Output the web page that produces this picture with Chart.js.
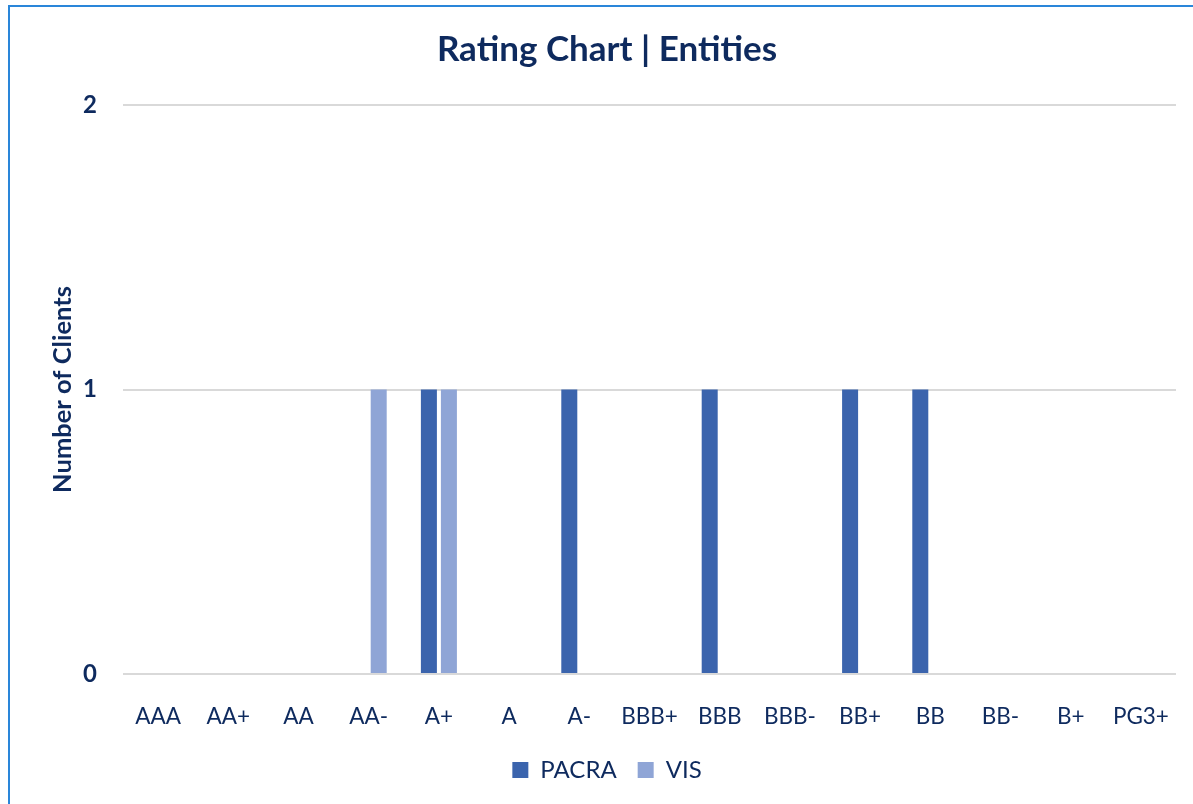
<!DOCTYPE html>
<html>
<head>
<meta charset="utf-8">
<script src="https://cdn.jsdelivr.net/npm/chart.js@4"></script>
<style>
  body { margin: 0; background: #fff; }
  #frame { position: absolute; left: 8px; top: 5px; width: 1300px; height: 900px;
           border-left: 2px solid #2A86D9; border-top: 2px solid #2A86D9; }
  #wrap { position: absolute; left: 0; top: 0; width: 1193px; height: 804px; }
</style>
</head>
<body>
<div id="frame"></div>
<div id="wrap"><canvas id="ratingChart"></canvas></div>
<script>
const ratings = ['AAA', 'AA+', 'AA', 'AA-', 'A+', 'A', 'A-', 'BBB+', 'BBB', 'BBB-', 'BB+', 'BB', 'BB-', 'B+', 'PG3+'];
const pacra = [0, 0, 0, 0, 1, 0, 1, 0, 1, 0, 1, 1, 0, 0, 0];
const vis = [0, 0, 0, 1, 1, 0, 0, 0, 0, 0, 0, 0, 0, 0, 0];
const yTicks = [0, 1, 2];

const navy = '#0E2A5E';
const fontFamily = 'Lato, "Open Sans", sans-serif';

const ctx = document.getElementById('ratingChart');
new Chart(ctx, {
  type: 'bar',
  data: {
    labels: ratings,
    datasets: [
      { label: 'PACRA', data: pacra, backgroundColor: '#3B64AD' },
      { label: 'VIS', data: vis, backgroundColor: '#8FA5D6' }
    ]
  },
  options: {
    responsive: true,
    maintainAspectRatio: false,
    animation: false,
    categoryPercentage: 0.57,
    barPercentage: 0.8,
    layout: { padding: { left: 38, right: 17, top: 0, bottom: 12 } },
    plugins: {
      title: {
        display: true,
        text: 'Rating Chart | Entities',
        color: navy,
        font: { family: fontFamily, size: 35, weight: 'bold' },
        padding: { top: 29, bottom: 34 }
      },
      legend: {
        position: 'bottom',
        labels: {
          color: navy,
          font: { family: fontFamily, size: 24 },
          boxWidth: 16,
          boxHeight: 16,
          padding: 21
        }
      },
      tooltip: { enabled: false }
    },
    scales: {
      x: {
        grid: { display: false },
        border: { display: false },
        ticks: { color: navy, font: { family: fontFamily, size: 22.5 }, padding: 21, maxRotation: 0, autoSkip: false },
        afterFit: function (scale) { scale.height = 63; }
      },
      y: {
        min: yTicks[0],
        max: yTicks[yTicks.length - 1],
        afterBuildTicks: function (scale) { scale.ticks = yTicks.map(v => ({ value: v })); },
        grid: { color: '#D9D9D9', lineWidth: 2, drawTicks: false },
        border: { display: false },
        ticks: { color: navy, font: { family: fontFamily, size: 24, weight: 'bold' }, padding: 26 },
        title: {
          display: true,
          text: 'Number of Clients',
          color: navy,
          font: { family: fontFamily, size: 25.5, weight: 'bold' },
          padding: { top: 9, bottom: 0 }
        },
        afterFit: function (scale) { scale.width = 85; }
      }
    }
  }
});
</script>
</body>
</html>
